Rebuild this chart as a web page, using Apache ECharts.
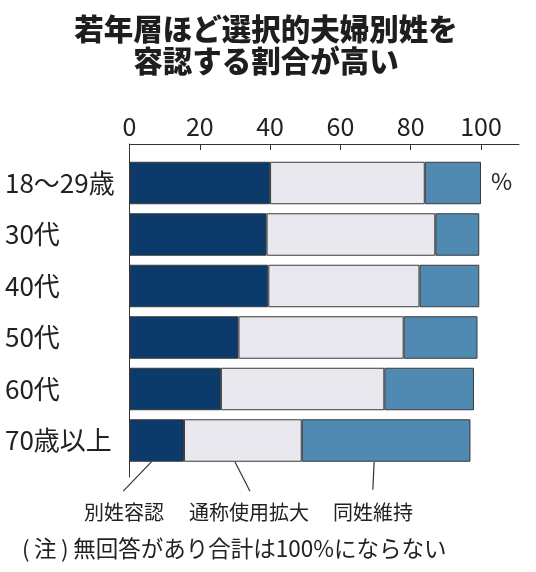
<!DOCTYPE html>
<html><head><meta charset="utf-8">
<script src="https://cdn.jsdelivr.net/npm/echarts@6/dist/echarts.min.js"></script>
<style>html,body{margin:0;padding:0;background:#fff}#c{width:536px;height:572px}</style>
</head><body><div id="c"></div>
<script>
const categories = ['18〜29歳', '30代', '40代', '50代', '60代', '70歳以上'];
const seriesNames = ['別姓容認', '通称使用拡大', '同姓維持'];
const betsuseiYonin = [40, 39, 39.5, 31, 26, 15.5];
const tsushoKakudai = [44, 48, 43, 47, 46.5, 33.5];
const doseiIji = [16, 12.5, 17, 21, 25.5, 48];
const xTicks = [0, 20, 40, 60, 80, 100];
const titleText = '若年層ほど選択的夫婦別姓を\n容認する割合が高い';
const noteText = '(\u2009注\u2009)\u2009無回答があり合計は100%にならない';
const unitText = '%';

const colors = ['#0c3a6a', '#e8e8ee', '#5089b1'];
const CJK = '"Noto Sans CJK JP", "Noto Sans", sans-serif';
const NARROW = '"Liberation Sans Narrow", "Noto Sans CJK JP", sans-serif';

const chart = echarts.init(document.getElementById('c'));
const values = [betsuseiYonin, tsushoKakudai, doseiIji];

const option = {
  animation: false,
  backgroundColor: '#fff',
  title: {
    text: titleText,
    left: 261, top: 8, textAlign: 'center',
    textStyle: { fontFamily: CJK, fontWeight: 900, fontSize: 29.5, lineHeight: 32, color: '#1e1e1e' }
  },
  grid: [
    { left: 129.5, top: 157.25, width: 351.5, height: 309, containLabel: false },
    { left: 129.5, top: 144, width: 389.5, height: 333, containLabel: false }
  ],
  xAxis: [
    {
      gridIndex: 0, type: 'value', min: xTicks[0], max: xTicks[xTicks.length - 1], interval: xTicks[1] - xTicks[0],
      position: 'top', offset: 13.25,
      axisLine: { show: false },
      axisTick: { show: true, inside: true, length: 6, lineStyle: { color: '#333', width: 1 } },
      axisLabel: { margin: 5, fontFamily: NARROW, fontSize: 25, color: '#222' },
      splitLine: { show: false }
    },
    {
      gridIndex: 1, type: 'value', min: 0, max: 1, position: 'top',
      axisLine: { show: true, onZero: false, lineStyle: { color: '#333', width: 1 } },
      axisTick: { show: false }, axisLabel: { show: false }, splitLine: { show: false }
    }
  ],
  yAxis: [
    {
      gridIndex: 0, type: 'category', inverse: true, data: categories,
      axisLine: { show: false }, axisTick: { show: false },
      axisLabel: { margin: 124.5, align: 'left', fontFamily: CJK, fontSize: 26, color: '#222' }
    },
    {
      gridIndex: 1, type: 'value', min: 0, max: 1,
      axisLine: { show: true, onZero: false, lineStyle: { color: '#333', width: 1 } },
      axisTick: { show: false }, axisLabel: { show: false }, splitLine: { show: false }
    }
  ],
  series: seriesNames.map((name, i) => ({
    name, type: 'bar', stack: 'total', xAxisIndex: 0, yAxisIndex: 0,
    data: values[i], barCategoryGap: '17.5%',
    itemStyle: { color: colors[i], borderColor: '#3a3a3a', borderWidth: 1 }
  }))
};
chart.setOption(option);

// annotations: unit, leader lines and labels for the last bar
const last = categories[categories.length - 1];
const anchors = [
  { v: 6.3, dx: -28.4, dy: 29.5, label: seriesNames[0], lx: 84 },
  { v: 30, dx: 15, dy: 29.5, label: seriesNames[1], lx: 189 },
  { v: 69.6, dx: -1.3, dy: 28, label: seriesNames[2], lx: 333 }
];
const graphics = [];
anchors.forEach(a => {
  const p = chart.convertToPixel({ xAxisIndex: 0, yAxisIndex: 0 }, [a.v, last]);
  const y0 = p[1] + 21.2;
  graphics.push({
    type: 'line', silent: true,
    shape: { x1: p[0], y1: y0, x2: p[0] + a.dx, y2: y0 + a.dy },
    style: { stroke: '#333', lineWidth: 1.2 }
  });
  graphics.push({
    type: 'text', left: a.lx, top: 502,
    style: { text: a.label, fontFamily: CJK, fontSize: 20, fill: '#222' }
  });
});
const p100 = chart.convertToPixel({ xAxisIndex: 0, yAxisIndex: 0 }, [100, categories[0]]);
graphics.push({
  type: 'text', left: p100[0] + 10, top: p100[1] - 13,
  style: { text: unitText, fontFamily: CJK, fontSize: 23, fill: '#222' }
});
graphics.push({
  type: 'text', left: 22, top: 537,
  style: { text: noteText, fontFamily: CJK, fontSize: 22.5, fill: '#222' }
});
chart.setOption({ graphic: graphics });
</script></body></html>
